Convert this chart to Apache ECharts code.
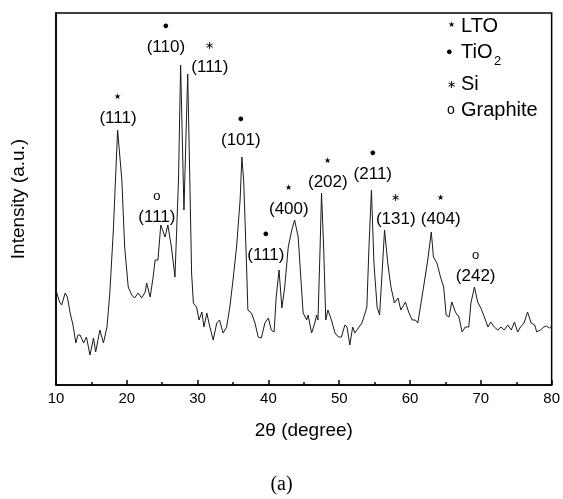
<!DOCTYPE html>
<html>
<head>
<meta charset="utf-8">
<script src="https://cdn.jsdelivr.net/npm/echarts@6/dist/echarts.min.js"></script>
<style>
html,body{margin:0;padding:0;background:#fff;}
#main{width:563px;height:499px;}
</style>
</head>
<body>
<div id="main"></div>
<script>
// 2theta (degree) and intensity (a.u.)
var twoTheta=[10.0,10.2,10.5,10.8,11.3,11.6,12.0,12.4,12.8,13.1,13.4,13.9,14.3,14.8,15.3,15.6,16.2,16.7,17.2,17.6,
18.1,18.7,19.3,19.7,20.2,20.7,21.1,21.6,22.1,22.6,22.8,23.3,23.7,24.0,24.4,24.8,25.4,25.8,26.3,26.8,
27.3,27.6,28.07,28.6,28.9,29.15,29.4,29.85,30.2,30.6,30.9,31.3,31.6,32.2,32.7,33.1,33.6,34.1,34.55,35.0,
35.5,36.0,36.25,36.5,36.9,37.1,37.6,38.1,38.55,39.0,39.5,40.0,40.4,40.8,41.1,41.5,41.9,42.3,42.8,43.3,
43.7,44.2,44.6,44.9,45.4,45.6,46.1,46.55,46.8,47.0,47.3,47.5,47.8,48.1,48.4,48.9,49.4,49.9,50.3,50.8,
51.1,51.5,51.9,52.2,52.7,53.2,53.7,53.9,54.2,54.55,54.9,55.35,55.7,56.05,56.4,56.85,57.3,57.8,58.3,58.7,
59.35,59.8,60.3,60.75,61.1,61.55,62.0,62.5,63.0,63.3,63.8,64.3,64.75,65.1,65.5,65.9,66.4,66.9,67.35,67.8,
68.3,68.6,69.1,69.55,70.0,70.5,71.0,71.4,71.9,72.4,72.85,73.3,73.8,74.3,74.75,75.2,75.6,76.1,76.6,77.1,
77.6,77.9,78.4,78.9,79.25,79.7,80.0];
var intensity=[95,93,83,80,92,88,72,60,42,50,50,42,48,30,47,33,55,42,58,92,
155,255,205,138,98,90,87,92,87,93,102,88,107,125,125,160,148,160,138,108,
205,320,175,311,205,112,82,78,65,73,58,72,62,45,62,65,52,58,78,105,
138,185,228,205,122,75,72,62,48,47,62,67,55,53,88,115,77,98,138,155,
165,148,105,72,65,70,52,62,70,65,138,192,138,65,75,65,52,48,48,60,
58,40,58,52,57,62,73,78,138,195,122,78,70,112,155,122,98,82,87,75,
83,73,65,65,62,82,102,125,153,128,122,108,98,70,68,83,73,68,53,58,
58,82,98,83,77,68,58,63,58,55,58,55,60,55,63,53,58,62,73,62,
60,53,55,58,59,57,59];
var xTicks=[10,20,30,40,50,60,70,80];

// peak labels: [2theta, intensity at text centre, phase mark, (hkl)]
var peakX=[18.75,25.52,31.73,36.1,24.25,39.64,42.88,48.39,54.74,57.98,64.33,69.27];
var peakY=[267,338,318,245,168,130,176,203,211,166,166,109];
var peakMark=['lto','tio','si','tio','gra','tio','lto','lto','tio','si','lto','gra'];
var peakHkl=['(111)','(110)','(111)','(101)','(111)','(111)','(400)','(202)','(211)','(131)','(404)','(242)'];

var markChar={lto:'★',tio:'●',si:'∗',gra:'o'};

var pts=twoTheta.map(function(t,i){return [t,intensity[i]];});
var marks=peakX.map(function(x,i){
    return {
        coord:[x,peakY[i]],
        label:{formatter:'{'+peakMark[i]+'|'+markChar[peakMark[i]]+'}\n{t|'+peakHkl[i]+'}'}
    };
});

var font='"Liberation Sans", Arial, sans-serif';
var chart=echarts.init(document.getElementById('main'));
var option={
    animation:false,
    backgroundColor:'#fff',
    grid:{left:56,right:11,top:13,bottom:114,show:true,borderColor:'#000',borderWidth:1.5,backgroundColor:'transparent'},
    xAxis:{
        type:'value',min:10,max:80,interval:10,
        name:'2θ (degree)',nameLocation:'middle',nameGap:36,
        nameTextStyle:{fontFamily:font,fontSize:19,color:'#000'},
        axisLine:{lineStyle:{color:'#000',width:1.5}},
        axisTick:{inside:true,length:5,lineStyle:{color:'#000',width:1.5}},
        minorTick:{show:true,splitNumber:2,length:3,lineStyle:{color:'#000',width:1.5}},
        axisLabel:{fontFamily:font,fontSize:15,color:'#000',margin:6},
        splitLine:{show:false}
    },
    yAxis:{
        type:'value',min:0,max:372,
        name:'Intensity (a.u.)',nameLocation:'middle',nameGap:28,
        nameTextStyle:{fontFamily:font,fontSize:19,color:'#000'},
        axisLine:{show:true,lineStyle:{color:'#000',width:1.5}},
        axisTick:{show:false},
        axisLabel:{show:false},
        splitLine:{show:false}
    },
    series:[{
        type:'line',
        data:pts,
        symbol:'none',
        lineStyle:{color:'#1a1a1a',width:1},
        markPoint:{
            symbol:'circle',symbolSize:0,
            label:{
                show:true,position:'inside',offset:[0,-10.5],color:'#000',
                rich:{
                    t:{fontFamily:font,fontSize:17,color:'#000',lineHeight:21},
                    lto:{fontSize:8,color:'#000',lineHeight:21},
                    tio:{fontSize:11,color:'#000',lineHeight:21},
                    si:{fontSize:11,color:'#000',lineHeight:21},
                    gra:{fontFamily:font,fontSize:13,color:'#000',lineHeight:21}
                }
            },
            data:marks
        }
    }],
    graphic:[
        {type:'text',left:448,top:21,style:{text:'★',fontSize:8,fill:'#000'}},
        {type:'text',left:461,top:16,style:{text:'LTO',fontFamily:font,fontSize:20,fill:'#000'}},
        {type:'text',left:446,top:46,style:{text:'●',fontSize:11,fill:'#000'}},
        {type:'text',left:461,top:42,style:{text:'TiO',fontFamily:font,fontSize:20,fill:'#000'}},
        {type:'text',left:494,top:55,style:{text:'2',fontFamily:font,fontSize:13,fill:'#000'}},
        {type:'text',left:447,top:79,style:{text:'∗',fontSize:11,fill:'#000'}},
        {type:'text',left:461,top:74,style:{text:'Si',fontFamily:font,fontSize:20,fill:'#000'}},
        {type:'text',left:447,top:103,style:{text:'o',fontFamily:font,fontSize:14,fill:'#000'}},
        {type:'text',left:461,top:100,style:{text:'Graphite',fontFamily:font,fontSize:20,fill:'#000'}},
        {type:'text',left:'center',top:475,style:{text:'(a)',fontFamily:'"Liberation Serif", "Times New Roman", serif',fontSize:20,fill:'#000'}}
    ]
};
chart.setOption(option);
</script>
</body>
</html>
